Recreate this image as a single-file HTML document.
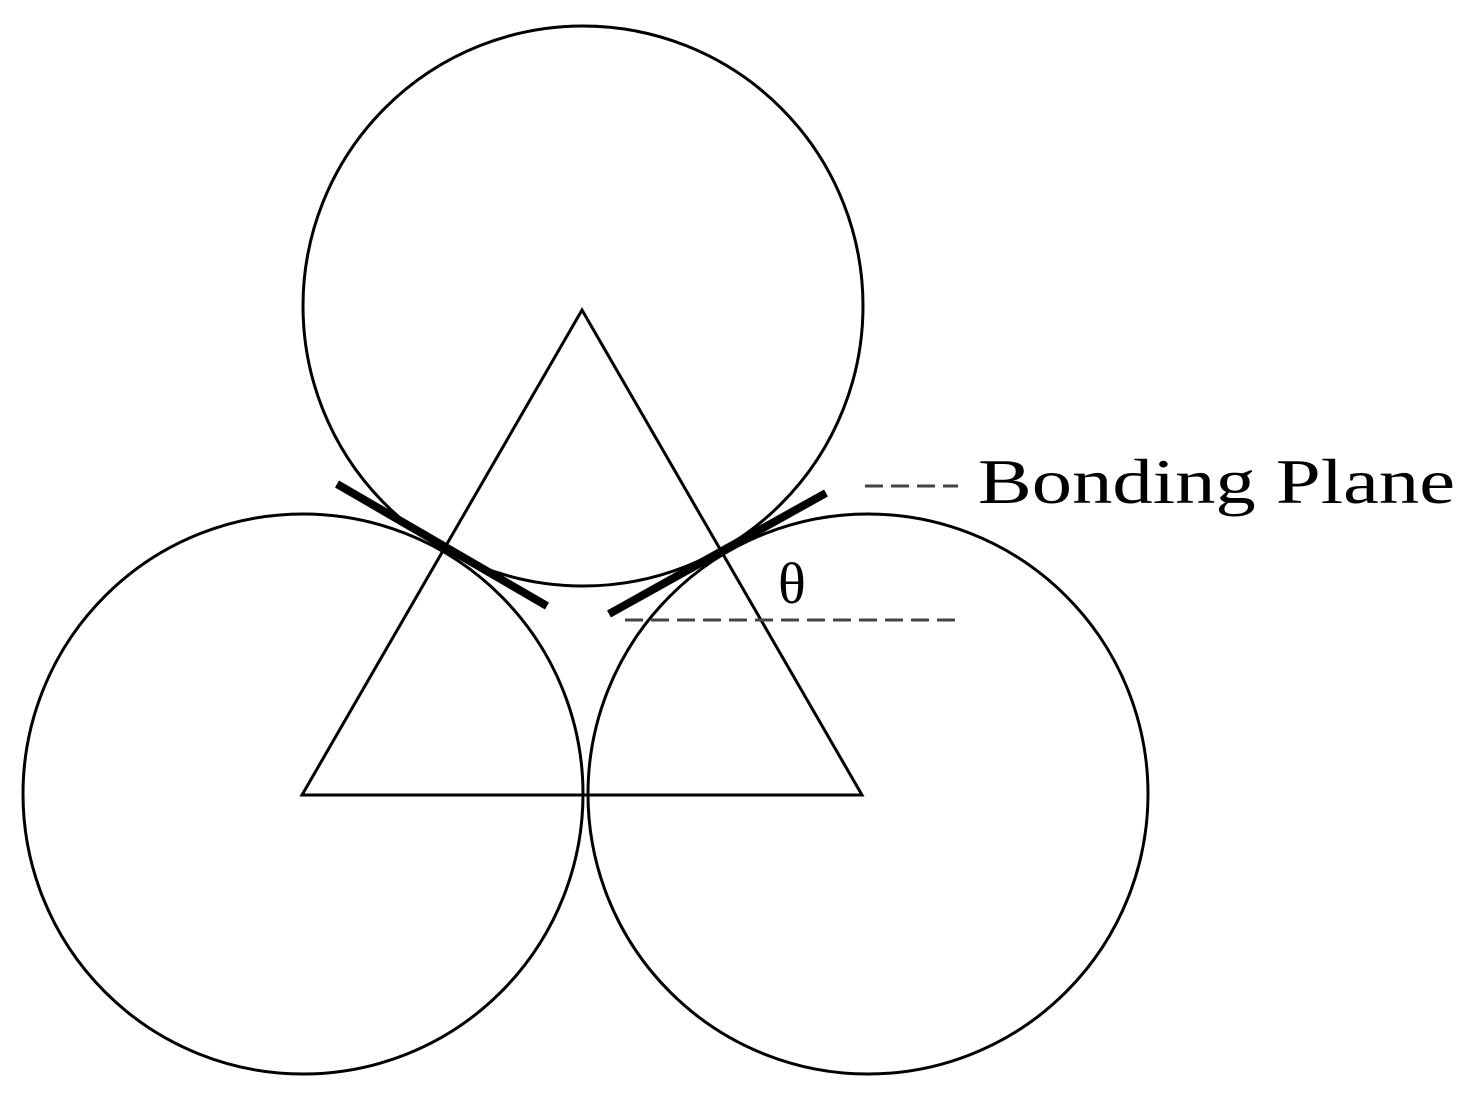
<!DOCTYPE html>
<html><head><style>html,body{margin:0;padding:0;background:#fff}</style></head>
<body>
<svg width="1477" height="1099" viewBox="0 0 1477 1099" xmlns="http://www.w3.org/2000/svg">
<rect width="1477" height="1099" fill="#fff"/>
<g fill="none" stroke="#000" stroke-width="3">
<circle cx="583" cy="306" r="280"/>
<circle cx="303" cy="794" r="280"/>
<circle cx="868" cy="794" r="280"/>
<polygon points="582,310 302,795 862,795"/>
</g>
<g stroke="#000" stroke-width="8" stroke-linecap="butt">
<line x1="337" y1="484" x2="547" y2="606"/>
<line x1="609" y1="614" x2="826" y2="493"/>
</g>
<g stroke="#444" stroke-width="3" stroke-dasharray="18,8">
<line x1="865" y1="486" x2="958" y2="486"/>
<line x1="625" y1="620" x2="958" y2="620"/>
</g>
<text x="978" y="503" font-family="Liberation Serif, serif" font-size="64" fill="#000" textLength="477" lengthAdjust="spacingAndGlyphs">Bonding Plane</text>
<text x="778" y="603" font-family="Liberation Serif, serif" font-size="58" fill="#000">θ</text>
</svg>
</body></html>
